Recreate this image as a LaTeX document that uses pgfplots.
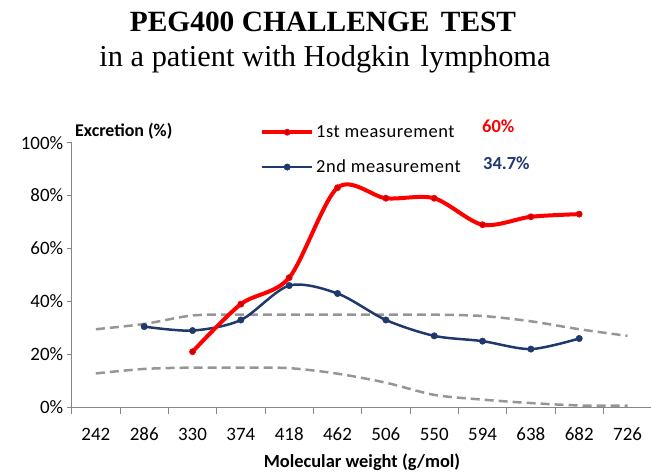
\documentclass[border=0pt]{standalone}
\usepackage{fontspec}
\setmainfont{Liberation Serif}
\newfontfamily\calibri{Carlito}
\usepackage{pgfplots}
\pgfplotsset{compat=1.18}
\definecolor{myred}{RGB}{255,0,0}
\definecolor{mynavy}{RGB}{31,56,110}
\definecolor{mygray}{RGB}{150,150,150}
\definecolor{axgray}{RGB}{134,134,134}
\begin{document}
\begin{tikzpicture}[x=1bp,y=1bp]
\useasboundingbox (0,0) rectangle (651,472);
\node[font=\fontsize{29.5}{32}\selectfont\bfseries, anchor=base] at (323,440) {PEG400 CHALLENGE\hspace{4bp} TEST};
\node[font=\fontsize{30.5}{32}\selectfont, anchor=base] at (325,405.5) {in a patient with Hodgkin\hspace{3bp} lymphoma};
\begin{axis}[
  at={(71.7bp,64.7bp)}, anchor=south west,
  scale only axis, width=580bp, height=264.6bp,
  xmin=-0.5, xmax=11.5, ymin=0, ymax=100,
  axis x line=bottom, axis y line=left,
  axis line style={-, axgray, line width=1bp},
  xtick={0,...,11},
  xticklabels={242,286,330,374,418,462,506,550,594,638,682,726},
  major x tick style={draw=none},
  minor xtick={-0.5,0.5,...,11.5},
  minor x tick style={axgray, line width=1bp},
  minor tick length=7bp,
  ytick={0,20,40,60,80,100},
  yticklabels={0\%,20\%,40\%,60\%,80\%,100\%},
  y tick style={axgray, line width=1bp},
  major tick length=5bp,
  tick align=outside,
  tick label style={font=\calibri\fontsize{19}{21}\selectfont, text=black},
  xticklabel style={yshift=-12bp},
  clip=false,
  legend style={at={(0.3247,0.9728)}, anchor=west, draw=none, fill=none,
    inner sep=0pt, row sep=17bp, font=\calibri\fontsize{18.5}{20}\selectfont\addfontfeature{LetterSpace=3},
    /tikz/every even column/.append style={column sep=4bp}},
  legend cell align=left,
  reverse legend,
  legend image code/.code={\draw[mark repeat=2,mark phase=2,#1] plot coordinates {(0bp,0bp) (25bp,0bp) (50bp,0bp)};},
]
\addplot[mygray, line width=2.5bp, dash pattern=on 9bp off 5bp, smooth, forget plot]
  coordinates {(0,29.5)(1,31.5)(2,34.7)(3,35)(4,35)(5,35)(6,35)(7,35)(8,34.5)(9,32.5)(10,29.5)(11,27)};
\addplot[mygray, line width=2.5bp, dash pattern=on 9bp off 5bp, smooth, forget plot]
  coordinates {(0,12.8)(1,14.5)(2,15)(3,15)(4,14.8)(5,12.7)(6,9.3)(7,4.7)(8,2.9)(9,1.6)(10,0.7)(11,0.6)};
\addplot[mynavy, line width=2.5bp, smooth, mark=*, mark size=3.2bp, mark options={fill=mynavy, line width=0.5bp}]
  coordinates {(1,30.5)(2,29)(3,33)(4,46)(5,43)(6,33)(7,27)(8,25)(9,22)(10,26)};
\addlegendentry{2nd measurement}
\addplot[myred, line width=4bp, smooth, mark=*, mark size=3bp, mark options={fill=myred!80!black, draw=myred, line width=0.8bp}]
  coordinates {(2,21)(3,39)(4,49)(5,83)(6,79)(7,79)(8,69)(9,72)(10,73)};
\addlegendentry{1st measurement}
\end{axis}
\node[font=\calibri\bfseries\fontsize{18}{20}\selectfont, anchor=base west, inner sep=0] at (75,335) {Excretion (\%)};
\node[font=\calibri\bfseries\fontsize{18.5}{20}\selectfont, anchor=base, inner sep=0] at (362,4) {Molecular weight (g/mol)};
\node[font=\calibri\bfseries\fontsize{18.5}{20}\selectfont, anchor=base west, inner sep=0, text=myred] at (482,339) {60\%};
\node[font=\calibri\bfseries\fontsize{18.5}{20}\selectfont, anchor=base west, inner sep=0, text=mynavy] at (483,302) {34.7\%};
\end{tikzpicture}
\end{document}
